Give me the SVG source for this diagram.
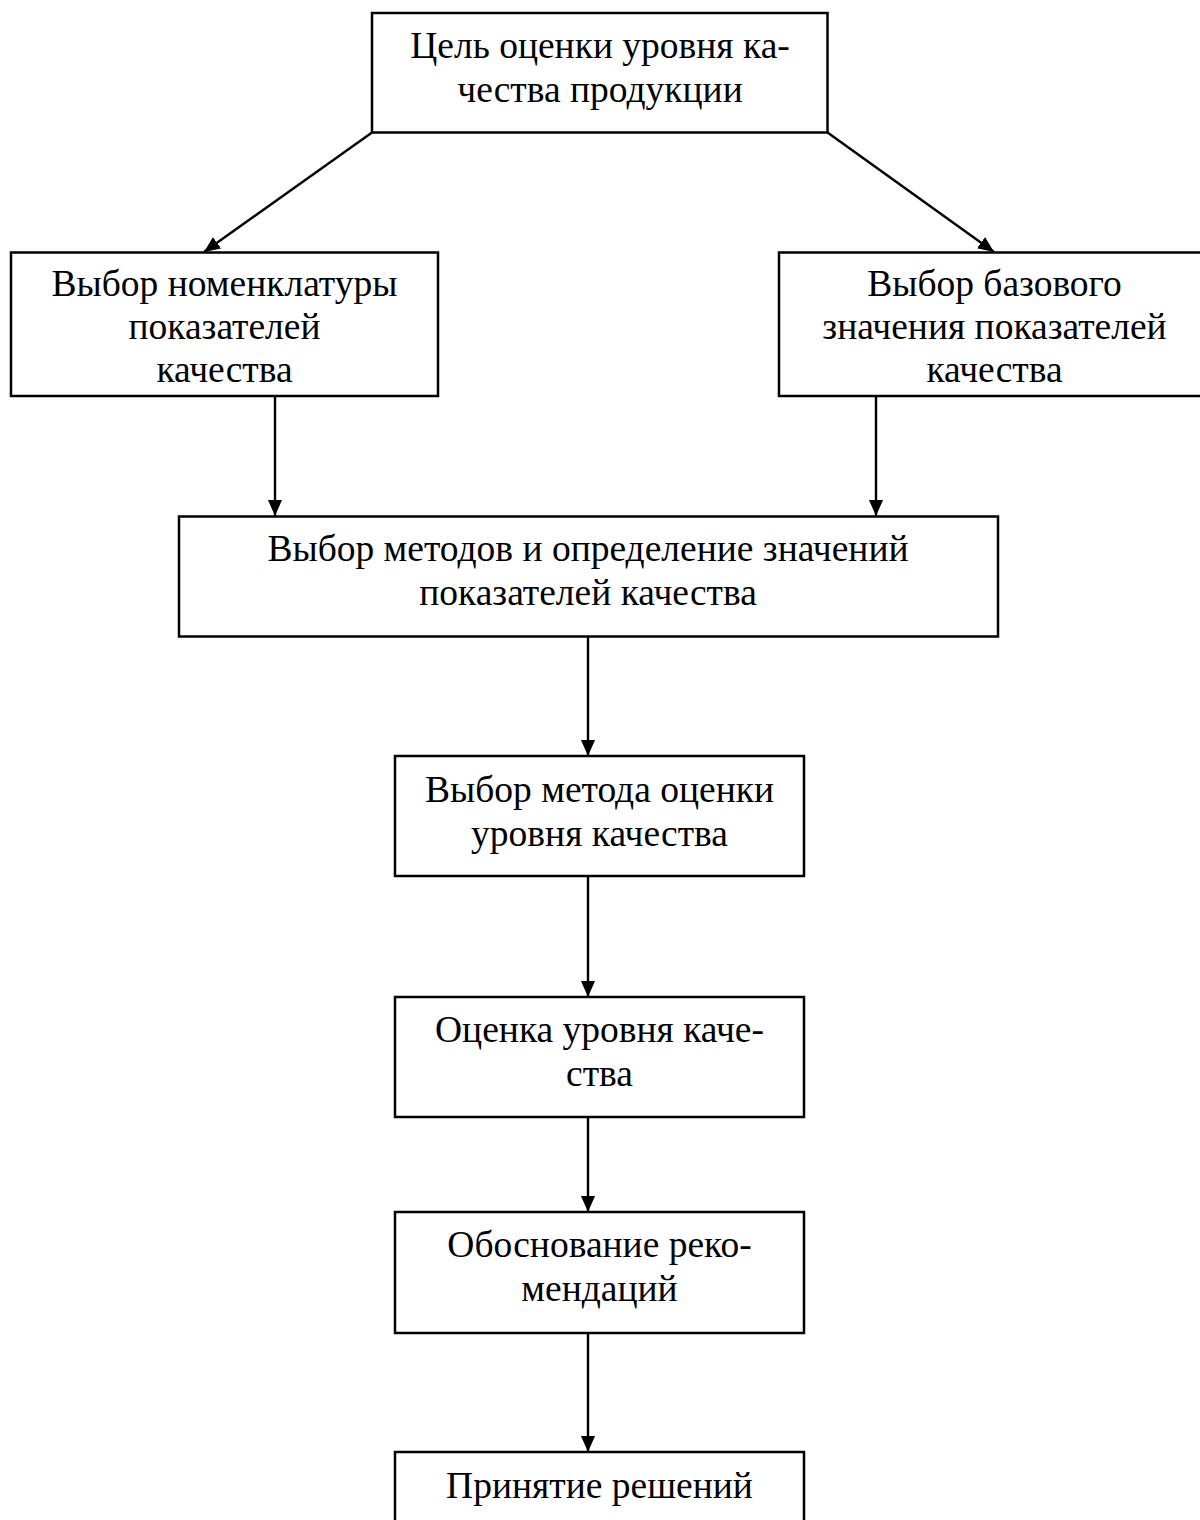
<svg xmlns="http://www.w3.org/2000/svg" width="1200" height="1520" viewBox="0 0 1200 1520">
<defs>
<style>
.box{fill:#fff;stroke:#000;stroke-width:2.5}
.t{font-family:"Liberation Serif","Times New Roman",serif;font-size:37.5px;fill:#000;text-anchor:middle}
.c{stroke:#000;stroke-width:2.4;fill:none;marker-end:url(#ah)}
</style>
<marker id="ah" viewBox="0 0 16 14" refX="16" refY="7" markerWidth="16" markerHeight="14" markerUnits="userSpaceOnUse" orient="auto">
<path d="M0,0 L16,7 L0,14 z" fill="#000"/>
</marker>
</defs>
<rect width="1200" height="1520" fill="#fff"/>
<g id="connectors">
<line class="c" x1="372" y1="132.5" x2="204" y2="252"/>
<line class="c" x1="827.5" y1="132.5" x2="994" y2="252"/>
<line class="c" x1="275" y1="396" x2="275" y2="516"/>
<line class="c" x1="876" y1="396" x2="876" y2="516"/>
<line class="c" x1="588" y1="636.5" x2="588" y2="756"/>
<line class="c" x1="588" y1="876" x2="588" y2="997"/>
<line class="c" x1="588" y1="1117" x2="588" y2="1212"/>
<line class="c" x1="588" y1="1333" x2="588" y2="1452"/>
</g>
<g id="n1">
<rect class="box" x="372" y="13" width="455.5" height="119.5"/>
<text class="t" x="600" y="58">Цель оценки уровня ка-</text>
<text class="t" x="600" y="102">чества продукции</text>
</g>
<g id="n2">
<rect class="box" x="11" y="252.5" width="427" height="143.5"/>
<text class="t" x="224.5" y="296">Выбор номенклатуры</text>
<text class="t" x="224.5" y="339">показателей</text>
<text class="t" x="224.5" y="382">качества</text>
</g>
<g id="n3">
<rect class="box" x="779" y="252.5" width="431" height="143.5"/>
<text class="t" x="994.5" y="296">Выбор базового</text>
<text class="t" x="994.5" y="339">значения показателей</text>
<text class="t" x="994.5" y="382">качества</text>
</g>
<g id="n4">
<rect class="box" x="179" y="516.5" width="819" height="120"/>
<text class="t" x="588" y="561">Выбор методов и определение значений</text>
<text class="t" x="588" y="605">показателей качества</text>
</g>
<g id="n5">
<rect class="box" x="395" y="756" width="409" height="120"/>
<text class="t" x="599.5" y="802">Выбор метода оценки</text>
<text class="t" x="599.5" y="846">уровня качества</text>
</g>
<g id="n6">
<rect class="box" x="395" y="997" width="409" height="120"/>
<text class="t" x="599.5" y="1042">Оценка уровня каче-</text>
<text class="t" x="599.5" y="1086">ства</text>
</g>
<g id="n7">
<rect class="box" x="395" y="1212" width="409" height="121"/>
<text class="t" x="599.5" y="1257">Обоснование реко-</text>
<text class="t" x="599.5" y="1301">мендаций</text>
</g>
<g id="n8">
<rect class="box" x="395" y="1452" width="409" height="100"/>
<text class="t" x="599.5" y="1498">Принятие решений</text>
</g>
</svg>
